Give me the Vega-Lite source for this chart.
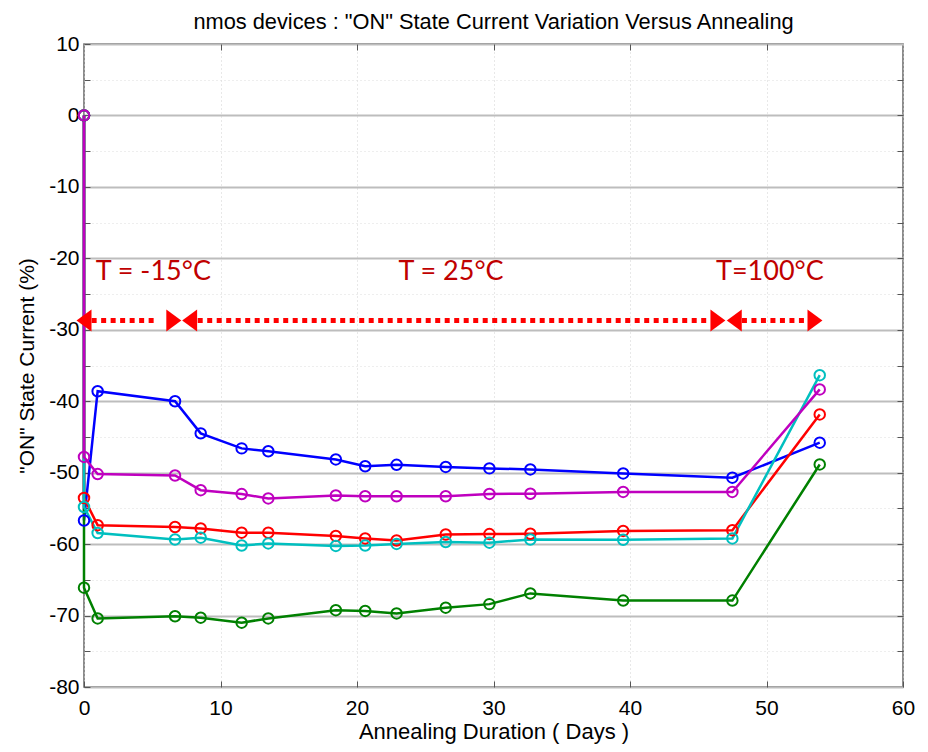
{
  "$schema": "https://vega.github.io/schema/vega-lite/v6.json",
  "width": 819,
  "height": 643,
  "autosize": "none",
  "padding": {"left": 84, "top": 44, "right": 25, "bottom": 65},
  "background": "white",
  "config": {"view": {"stroke": "#666666", "strokeWidth": 1.5}},
  "title": {"text": "nmos devices : \"ON\" State Current Variation Versus Annealing", "font": "Liberation Sans", "fontSize": 21.8, "fontWeight": "normal", "color": "#000000", "baseline": "alphabetic", "offset": 4, "dy": 22},
  "datasets": {
    "series": [
      {"s": "b", "i": 0, "x": 0, "y": 0}, {"s": "b", "i": 1, "x": 0, "y": -56.7}, {"s": "b", "i": 2, "x": 1, "y": -38.6}, {"s": "b", "i": 3, "x": 6.67, "y": -40.0}, {"s": "b", "i": 4, "x": 8.55, "y": -44.5}, {"s": "b", "i": 5, "x": 11.55, "y": -46.6}, {"s": "b", "i": 6, "x": 13.5, "y": -47.0}, {"s": "b", "i": 7, "x": 18.45, "y": -48.15}, {"s": "b", "i": 8, "x": 20.6, "y": -49.1}, {"s": "b", "i": 9, "x": 22.9, "y": -48.9}, {"s": "b", "i": 10, "x": 26.5, "y": -49.2}, {"s": "b", "i": 11, "x": 29.7, "y": -49.4}, {"s": "b", "i": 12, "x": 32.7, "y": -49.55}, {"s": "b", "i": 13, "x": 39.5, "y": -50.1}, {"s": "b", "i": 14, "x": 47.5, "y": -50.7}, {"s": "b", "i": 15, "x": 53.9, "y": -45.8},
      {"s": "g", "i": 0, "x": 0, "y": 0}, {"s": "g", "i": 1, "x": 0, "y": -66.1}, {"s": "g", "i": 2, "x": 1, "y": -70.4}, {"s": "g", "i": 3, "x": 6.67, "y": -70.1}, {"s": "g", "i": 4, "x": 8.55, "y": -70.3}, {"s": "g", "i": 5, "x": 11.55, "y": -71.0}, {"s": "g", "i": 6, "x": 13.5, "y": -70.4}, {"s": "g", "i": 7, "x": 18.45, "y": -69.25}, {"s": "g", "i": 8, "x": 20.6, "y": -69.35}, {"s": "g", "i": 9, "x": 22.9, "y": -69.7}, {"s": "g", "i": 10, "x": 26.5, "y": -68.9}, {"s": "g", "i": 11, "x": 29.7, "y": -68.4}, {"s": "g", "i": 12, "x": 32.7, "y": -66.9}, {"s": "g", "i": 13, "x": 39.5, "y": -67.9}, {"s": "g", "i": 14, "x": 47.5, "y": -67.9}, {"s": "g", "i": 15, "x": 53.9, "y": -48.85},
      {"s": "r", "i": 0, "x": 0, "y": 0}, {"s": "r", "i": 1, "x": 0, "y": -53.55}, {"s": "r", "i": 2, "x": 1, "y": -57.35}, {"s": "r", "i": 3, "x": 6.67, "y": -57.6}, {"s": "r", "i": 4, "x": 8.55, "y": -57.8}, {"s": "r", "i": 5, "x": 11.55, "y": -58.4}, {"s": "r", "i": 6, "x": 13.5, "y": -58.4}, {"s": "r", "i": 7, "x": 18.45, "y": -58.85}, {"s": "r", "i": 8, "x": 20.6, "y": -59.2}, {"s": "r", "i": 9, "x": 22.9, "y": -59.5}, {"s": "r", "i": 10, "x": 26.5, "y": -58.65}, {"s": "r", "i": 11, "x": 29.7, "y": -58.6}, {"s": "r", "i": 12, "x": 32.7, "y": -58.55}, {"s": "r", "i": 13, "x": 39.5, "y": -58.15}, {"s": "r", "i": 14, "x": 47.5, "y": -58.05}, {"s": "r", "i": 15, "x": 53.9, "y": -41.85},
      {"s": "c", "i": 0, "x": 0, "y": 0}, {"s": "c", "i": 1, "x": 0, "y": -54.8}, {"s": "c", "i": 2, "x": 1, "y": -58.45}, {"s": "c", "i": 3, "x": 6.67, "y": -59.35}, {"s": "c", "i": 4, "x": 8.55, "y": -59.1}, {"s": "c", "i": 5, "x": 11.55, "y": -60.2}, {"s": "c", "i": 6, "x": 13.5, "y": -59.9}, {"s": "c", "i": 7, "x": 18.45, "y": -60.25}, {"s": "c", "i": 8, "x": 20.6, "y": -60.2}, {"s": "c", "i": 9, "x": 22.9, "y": -59.97}, {"s": "c", "i": 10, "x": 26.5, "y": -59.7}, {"s": "c", "i": 11, "x": 29.7, "y": -59.8}, {"s": "c", "i": 12, "x": 32.7, "y": -59.35}, {"s": "c", "i": 13, "x": 39.5, "y": -59.4}, {"s": "c", "i": 14, "x": 47.5, "y": -59.2}, {"s": "c", "i": 15, "x": 53.9, "y": -36.35},
      {"s": "m", "i": 0, "x": 0, "y": 0}, {"s": "m", "i": 1, "x": 0, "y": -47.8}, {"s": "m", "i": 2, "x": 1, "y": -50.2}, {"s": "m", "i": 3, "x": 6.67, "y": -50.4}, {"s": "m", "i": 4, "x": 8.55, "y": -52.45}, {"s": "m", "i": 5, "x": 11.55, "y": -53.0}, {"s": "m", "i": 6, "x": 13.5, "y": -53.6}, {"s": "m", "i": 7, "x": 18.45, "y": -53.2}, {"s": "m", "i": 8, "x": 20.6, "y": -53.3}, {"s": "m", "i": 9, "x": 22.9, "y": -53.3}, {"s": "m", "i": 10, "x": 26.5, "y": -53.3}, {"s": "m", "i": 11, "x": 29.7, "y": -52.97}, {"s": "m", "i": 12, "x": 32.7, "y": -52.95}, {"s": "m", "i": 13, "x": 39.5, "y": -52.7}, {"s": "m", "i": 14, "x": 47.5, "y": -52.7}, {"s": "m", "i": 15, "x": 53.9, "y": -38.35}
    ],
    "spans": [
      {"x": 0.56, "x2": 5.43, "y": -28.7},
      {"x": 8.33, "x2": 45.9, "y": -28.7},
      {"x": 48.2, "x2": 52.94, "y": -28.7}
    ],
    "heads": [
      {"x": 0.0, "y": -28.7, "dir": "L"},
      {"x": 6.58, "y": -28.7, "dir": "R"},
      {"x": 7.74, "y": -28.7, "dir": "L"},
      {"x": 46.44, "y": -28.7, "dir": "R"},
      {"x": 47.64, "y": -28.7, "dir": "L"},
      {"x": 53.55, "y": -28.7, "dir": "R"}
    ],
    "labels": [
      {"x": 0.86, "y": -23.1, "t": "T = -15°C"},
      {"x": 23.04, "y": -23.1, "t": "T = 25°C"},
      {"x": 46.3, "y": -23.1, "t": "T=100°C"}
    ]
  },
  "layer": [
    {
      "data": {"name": "series"},
      "mark": {"type": "line", "strokeWidth": 2.5, "clip": false},
      "encoding": {
        "x": {"field": "x", "type": "quantitative", "scale": {"domain": [0, 60], "nice": false, "zero": false},
          "axis": {"orient": "bottom", "values": [0, 10, 20, 30, 40, 50, 60], "labelExpr": "'' + datum.value", "labelFlush": false, "labelOverlap": false,
            "labelFont": "Liberation Sans", "labelFontSize": 21, "labelColor": "#000000", "labelPadding": 16,
            "tickSize": -6, "tickColor": "#555555", "tickWidth": 1, "domain": false,
            "grid": true, "gridColor": "#d0d0d0", "gridDash": [1, 3], "gridWidth": 1,
            "title": "Annealing Duration ( Days )", "titleFont": "Liberation Sans", "titleFontSize": 22, "titleFontWeight": "normal", "titleColor": "#000000", "titlePadding": 3}},
        "y": {"field": "y", "type": "quantitative", "scale": {"domain": [-80, 10], "nice": false, "zero": false},
          "axis": {"orient": "left", "values": [-80, -75, -70, -65, -60, -55, -50, -45, -40, -35, -30, -25, -20, -15, -10, -5, 0, 5, 10],
            "labelExpr": "datum.value % 10 === 0 ? '' + datum.value : ''", "labelFlush": false, "labelOverlap": false,
            "labelFont": "Liberation Sans", "labelFontSize": 21, "labelColor": "#000000", "labelPadding": 11,
            "tickSize": -6, "tickColor": "#555555", "tickWidth": 1, "domain": false,
            "grid": true,
            "gridColor": {"condition": {"test": "datum.value % 10 === 0", "value": "#bdbdbd"}, "value": "#dcdcdc"},
            "gridWidth": {"condition": {"test": "datum.value % 10 === 0", "value": 2}, "value": 1},
            "gridDash": {"condition": {"test": "datum.value % 10 === 0", "value": []}, "value": [1, 3]},
            "title": "\"ON\" State Current (%)", "titleFont": "Liberation Sans", "titleFontSize": 21, "titleFontWeight": "normal", "titleColor": "#000000", "titlePadding": 11}},
        "color": {"field": "s", "type": "nominal", "scale": {"domain": ["b", "g", "r", "c", "m"], "range": ["#0000FF", "#008000", "#FF0000", "#00BFBF", "#BF00BF"]}, "legend": null},
        "order": {"field": "i", "type": "quantitative"}
      }
    },
    {
      "data": {"name": "series"},
      "mark": {"type": "point", "filled": false, "size": 110, "strokeWidth": 2, "opacity": 1, "clip": false},
      "encoding": {
        "x": {"field": "x", "type": "quantitative", "axis": null},
        "y": {"field": "y", "type": "quantitative", "axis": null},
        "color": {"field": "s", "type": "nominal", "legend": null}
      }
    },
    {
      "data": {"name": "spans"},
      "mark": {"type": "rule", "color": "#FF0000", "strokeWidth": 5, "strokeDash": [5, 4.5]},
      "encoding": {
        "x": {"field": "x", "type": "quantitative",
          "axis": {"orient": "top", "values": [10, 20, 30, 40, 50], "labels": false, "tickSize": -6, "tickColor": "#555555", "domain": false, "grid": false, "title": null}},
        "x2": {"field": "x2"},
        "y": {"field": "y", "type": "quantitative",
          "axis": {"orient": "right", "values": [-75, -70, -65, -60, -55, -50, -45, -40, -35, -30, -25, -20, -15, -10, -5, 0, 5], "labels": false, "tickSize": -6, "tickColor": "#555555", "domain": false, "grid": false, "title": null}}
      }
    },
    {
      "data": {"name": "heads"},
      "mark": {"type": "point", "filled": true, "color": "#FF0000", "size": 484, "strokeWidth": 0, "opacity": 1, "clip": false},
      "encoding": {
        "x": {"field": "x", "type": "quantitative", "axis": null},
        "y": {"field": "y", "type": "quantitative", "axis": null},
        "shape": {"field": "dir", "type": "nominal", "scale": {"domain": ["L", "R"], "range": ["M 0.68 -1 L -0.68 0 L 0.68 1 Z", "M -0.68 -1 L 0.68 0 L -0.68 1 Z"]}, "legend": null}
      }
    },
    {
      "data": {"name": "labels"},
      "mark": {"type": "text", "align": "left", "baseline": "alphabetic", "font": "Lato", "fontSize": 27, "color": "#C00000"},
      "encoding": {
        "x": {"field": "x", "type": "quantitative", "axis": null},
        "y": {"field": "y", "type": "quantitative", "axis": null},
        "text": {"field": "t", "type": "nominal"}
      }
    }
  ],
  "resolve": {"axis": {"x": "independent", "y": "independent"}}
}
